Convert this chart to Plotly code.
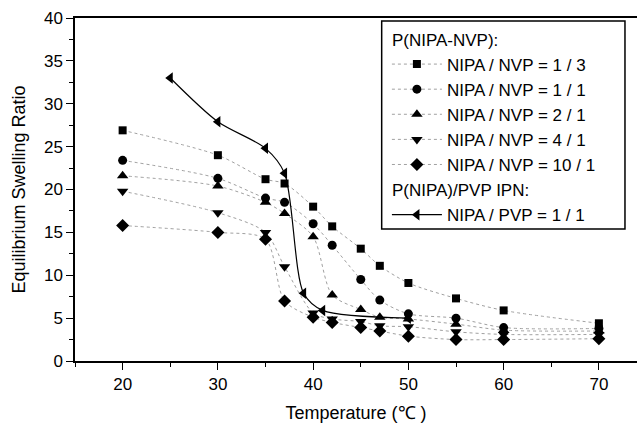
import plotly.graph_objects as go

# Temperatures (°C)
temp_nvp = [20, 30, 35, 37, 40, 42, 45, 47, 50, 55, 60, 70]
temp_ipn = [25, 30, 35, 37, 39, 41, 50]

# Equilibrium swelling ratios
r_1_3 = [26.9, 24.0, 21.2, 20.7, 18.0, 15.7, 13.1, 11.1, 9.1, 7.3, 5.9, 4.4]
r_1_1 = [23.4, 21.3, 19.0, 18.5, 16.0, 13.5, 9.5, 7.1, 5.5, 5.0, 3.9, 3.8]
r_2_1 = [21.6, 20.4, 18.5, 17.2, 14.5, 7.7, 6.0, 5.1, 4.9, 4.3, 3.6, 3.5]
r_4_1 = [19.8, 17.3, 15.0, 11.0, 5.6, 4.9, 4.6, 4.1, 4.0, 3.4, 3.1, 3.1]
r_10_1 = [15.8, 15.0, 14.2, 7.0, 5.1, 4.5, 3.9, 3.5, 2.9, 2.5, 2.5, 2.6]
r_ipn = [33.0, 27.9, 24.8, 21.9, 7.9, 5.9, 5.0]

names = ["NIPA / NVP = 1 / 3", "NIPA / NVP = 1 / 1", "NIPA / NVP = 2 / 1",
         "NIPA / NVP = 4 / 1", "NIPA / NVP = 10 / 1"]
series = [r_1_3, r_1_1, r_2_1, r_4_1, r_10_1]
symbols = ["square", "circle", "triangle-up", "triangle-down", "diamond"]
sizes = [8, 9, 10, 10, 10]

fig = go.Figure()
for i, (nm, ys, sym, sz) in enumerate(zip(names, series, symbols, sizes)):
    fig.add_trace(go.Scatter(
        x=temp_nvp, y=ys, name=nm, mode="lines+markers",
        line=dict(color="#a0a0a0", width=1, dash="dot", shape="spline", smoothing=0.8),
        marker=dict(symbol=sym, size=sz, color="black"),
        legendgroup="nvp",
        legendgrouptitle=dict(text="P(NIPA-NVP):") if i == 0 else None,
    ))

fig.add_trace(go.Scatter(
    x=temp_ipn, y=r_ipn, name="NIPA / PVP = 1 / 1", mode="lines+markers",
    line=dict(color="black", width=1.2, shape="spline", smoothing=0.8),
    marker=dict(symbol="triangle-left", size=10, color="black"),
    legendgroup="ipn",
    legendgrouptitle=dict(text="P(NIPA)/PVP IPN:"),
))

# legend frame (paper coordinates)
fig.add_shape(type="rect", xref="paper", yref="paper",
              x0=0.5457, x1=0.9786, y0=0.385, y1=0.991,
              line=dict(color="black", width=1.5), fillcolor="white", layer="above")

fig.update_layout(
    width=637, height=423,
    margin=dict(l=75, r=0, t=18, b=60),
    paper_bgcolor="white", plot_bgcolor="white",
    font=dict(family="Liberation Sans, Arial, sans-serif", size=17, color="black"),
    showlegend=True,
    legend=dict(
        x=0.555, y=0.99, xanchor="left", yanchor="top",
        borderwidth=0, bgcolor="rgba(0,0,0,0)",
        font=dict(size=17), tracegroupgap=0,
        itemwidth=50,
        groupclick="toggleitem",
        grouptitlefont=dict(size=17),
    ),
    xaxis=dict(
        range=[15, 74.0], tickvals=[20, 30, 40, 50, 60, 70],
        ticks="outside", ticklen=7, tickwidth=1.2, tickcolor="black",
        minor=dict(tickvals=[15, 25, 35, 45, 55, 65], ticks="outside", ticklen=4, tickcolor="black"),
        showline=True, linecolor="black", linewidth=1.5, mirror=True,
        showgrid=False, zeroline=False,
        title=dict(text="Temperature (℃ )", font=dict(size=18), standoff=16),
    ),
    yaxis=dict(
        range=[0, 40], tickvals=[0, 5, 10, 15, 20, 25, 30, 35, 40],
        ticks="outside", ticklen=7, tickwidth=1.2, tickcolor="black",
        minor=dict(dtick=2.5, ticks="outside", ticklen=4, tickcolor="black"),
        showline=True, linecolor="black", linewidth=1.5, mirror=False,
        showgrid=False, zeroline=False,
        title=dict(text="Equilibrium Swelling Ratio", font=dict(size=18), standoff=14),
    ),
)

fig.write_html("out.html")
